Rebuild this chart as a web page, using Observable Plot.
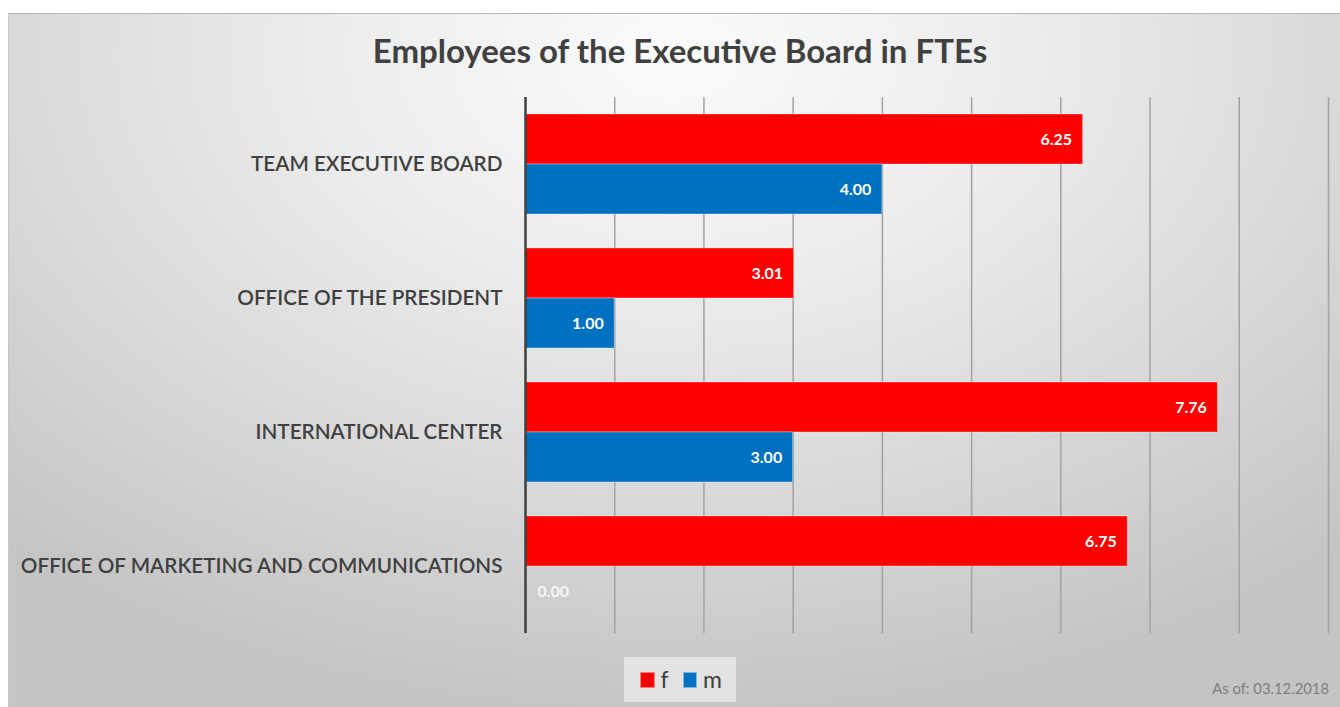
<!DOCTYPE html>
<html>
<head>
<meta charset="utf-8">
<script src="https://cdn.jsdelivr.net/npm/d3@7"></script>
<script src="https://cdn.jsdelivr.net/npm/@observablehq/plot@0.6"></script>
<style>
  html, body { margin: 0; padding: 0; background: #ffffff; }
  #wrap { position: relative; width: 1340px; height: 707px; overflow: hidden; background: #ffffff; font-family: Lato, "Open Sans", sans-serif; }
  #panel { position: absolute; left: 8px; top: 13px; width: 1332px; height: 694px;
    background: radial-gradient(ellipse 75% 95% at 50% 6%, #fbfbfb 0%, #ececec 35%, #dadada 65%, #c4c4c4 100%);
    border-top: 1px solid #b8b8b8; border-left: 1px solid #c8c8c8; box-sizing: border-box; }
  #title { position: absolute; left: 680px; top: 30px; transform: translateX(-50%); white-space: nowrap;
    font-size: 33px; font-weight: 700; color: #404040; }
  #chart { position: absolute; left: 0; top: 90px; }
  #legend { position: absolute; left: 624px; top: 657px; width: 112px; height: 45px; background: #e3e3e3;
    display: flex; align-items: center; font-size: 23px; color: #404040; }
  .sw { display: inline-block; width: 14px; height: 14px; border: 1px solid rgba(255,255,255,0.5); margin-right: 6px; }
  #legend span.lab { margin-right: 14px; line-height: 1; }
  #caption { position: absolute; right: 11px; top: 679px; font-size: 14.8px; color: #7f7f7f; }
  g[aria-label="fy-axis tick label"] text { font-weight: 600; }
</style>
</head>
<body>
<div id="wrap">
  <div id="panel"></div>
  <div id="title">Employees of the Executive Board in FTEs</div>
  <div id="chart"></div>
  <div id="legend"></div>
  <div id="caption">As of: 03.12.2018</div>
</div>
<script>
const categories = ["TEAM EXECUTIVE BOARD", "OFFICE OF THE PRESIDENT", "INTERNATIONAL CENTER", "OFFICE OF MARKETING AND COMMUNICATIONS"];
const femaleFTE = [6.25, 3.01, 7.76, 6.75];
const maleFTE = [4.00, 1.00, 3.00, 0.00];
const series = ["f", "m"];
const seriesColors = ["#ff0000", "#0070c0"];
const xTicks = [1, 2, 3, 4, 5, 6, 7, 8, 9];

const data = [];
categories.forEach((c, i) => {
  data.push({category: c, series: "f", value: femaleFTE[i]});
  data.push({category: c, series: "m", value: maleFTE[i]});
});

const chart = Plot.plot({
  width: 1340,
  height: 545,
  marginLeft: 525,
  marginRight: 12,
  marginTop: 7,
  marginBottom: 2,
  style: {background: "transparent", fontFamily: "Lato, 'Open Sans', sans-serif", color: "#404040", overflow: "visible"},
  x: {domain: [0, 9], axis: null},
  y: {domain: series, paddingInner: 0, paddingOuter: 0.34, axis: null},
  fy: {domain: categories, padding: 0, label: null},
  color: {domain: series, range: seriesColors},
  marks: [
    Plot.ruleX(xTicks, {stroke: "#a2a2a2", strokeWidth: 1.5}),
    Plot.barX(data, {x: "value", y: "series", fy: "category", fill: "series", stroke: "#ffffff", strokeOpacity: 0.35, strokeWidth: 1}),
    Plot.ruleX([0], {stroke: "#404040", strokeWidth: 2.5}),
    Plot.text(data.filter(d => d.value > 0), {
      x: "value", y: "series", fy: "category", text: d => d.value.toFixed(2),
      textAnchor: "end", dx: -11, fill: "white", fontWeight: 700, fontSize: 16
    }),
    Plot.text(data.filter(d => d.value === 0), {
      x: "value", y: "series", fy: "category", text: d => d.value.toFixed(2),
      textAnchor: "start", dx: 12, fill: "white", fillOpacity: 0.85, fontWeight: 700, fontSize: 16
    }),
    Plot.axisFy({anchor: "left", tickSize: 0, tickPadding: 23, fontSize: 20.7, fontWeight: 600, fill: "#404040", label: null})
  ]
});
document.getElementById("chart").appendChild(chart);

const legend = document.getElementById("legend");
legend.style.paddingLeft = "16px";
legend.style.boxSizing = "border-box";
series.forEach((s, i) => {
  const sw = document.createElement("span");
  sw.className = "sw";
  sw.style.background = seriesColors[i];
  legend.appendChild(sw);
  const lab = document.createElement("span");
  lab.className = "lab";
  lab.textContent = s;
  legend.appendChild(lab);
});
</script>
</body>
</html>
